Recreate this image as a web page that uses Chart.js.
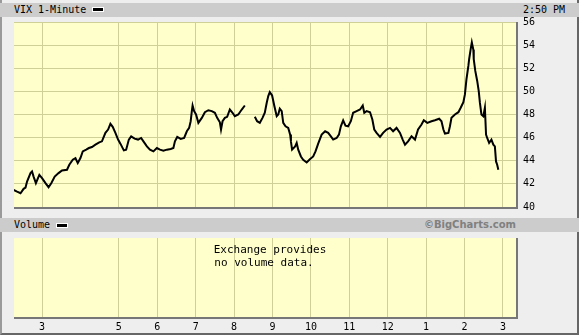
<!DOCTYPE html>
<html>
<head>
<meta charset="utf-8">
<script src="https://cdn.jsdelivr.net/npm/chart.js@4.4.1/dist/chart.umd.min.js"></script>
<style>
  html, body { margin: 0; padding: 0; }
  body { width: 579px; height: 335px; position: relative; background: #eeeeee; overflow: hidden;
         font-family: "DejaVu Sans Mono", monospace; font-size: 10px; color: #000; }
  .frame { position: absolute; left: 0; top: 0; width: 575px; height: 333px;
           border-left: 2px solid #9a9a9a; border-right: 2px solid #666; border-bottom: 2px solid #666; }
  .bar { position: absolute; left: 0; width: 579px; background: #cccccc; }
  .txt { position: absolute; line-height: 12px; white-space: pre; }
  .key { position: absolute; width: 10px; height: 3px; background: #000; border: 1px solid #fff; }
  canvas { position: absolute; left: 0; }
</style>
</head>
<body>
<div class="frame"></div>
<div class="bar" style="top:3px;height:14px"></div>
<div class="txt" style="left:14px;top:4px">VIX 1-Minute</div>
<div class="key" style="left:92px;top:7px"></div>
<div class="txt" style="left:523px;top:4px">2:50 PM</div>

<div class="bar" style="top:218px;height:14px"></div>
<div class="txt" style="left:14px;top:219px">Volume</div>
<div class="key" style="left:56px;top:223px"></div>
<div class="txt" style="right:63px;top:219px;font-family:'DejaVu Sans',sans-serif;font-weight:bold;color:#808080">©BigCharts.com</div>

<canvas id="main" width="579" height="220" style="top:0"></canvas>
<canvas id="vol" width="579" height="103" style="top:232px"></canvas>

<script>
// x positions are trading-session units, 0 = first "3" gridline
const tickPos = [0, 2, 3, 4, 5, 6, 7, 8, 9, 10, 11, 12];
const tickLabels = ['3', '5', '6', '7', '8', '9', '10', '11', '12', '1', '2', '3'];
const xMin = -0.73, xMax = 12.34;
const yMin = 40, yMax = 56, yStep = 2;

const vixX = [
  -0.74, -0.65, -0.56, -0.48, -0.43, -0.39, -0.30, -0.26, -0.22, -0.16, -0.07, 0.00,
  0.09, 0.17, 0.24, 0.33, 0.43, 0.52, 0.65, 0.71, 0.80, 0.87, 0.93, 1.00,
  1.06, 1.15, 1.22, 1.30, 1.39, 1.49, 1.56, 1.65, 1.72, 1.78, 1.84, 1.91,
  1.98, 2.04, 2.13, 2.19, 2.26, 2.32, 2.41, 2.50, 2.58, 2.64, 2.73, 2.81,
  2.90, 2.99, 3.07, 3.16, 3.25, 3.35, 3.42, 3.46, 3.52, 3.61, 3.70, 3.77,
  3.83, 3.87, 3.90, 3.92, 3.96, 4.01, 4.07, 4.16, 4.24, 4.33, 4.42, 4.50,
  4.56, 4.63, 4.66, 4.70, 4.76, 4.82, 4.89, 4.96, 5.02, 5.11, 5.20, 5.28,
  5.41,
  5.54, 5.60, 5.67, 5.74, 5.80, 5.85, 5.89, 5.93, 5.99, 6.05, 6.11, 6.15,
  6.19, 6.24, 6.28, 6.34, 6.41, 6.46, 6.48, 6.51, 6.59, 6.63, 6.67, 6.74,
  6.80, 6.89, 6.98, 7.06, 7.12, 7.19, 7.28, 7.37, 7.45, 7.52, 7.58, 7.67,
  7.73, 7.78, 7.84, 7.90, 7.97, 8.04, 8.10, 8.19, 8.28, 8.35, 8.39, 8.45,
  8.54, 8.60, 8.65, 8.71, 8.80, 8.88, 8.97, 9.06, 9.14, 9.23, 9.32, 9.39,
  9.45, 9.53, 9.62, 9.71, 9.79, 9.88, 9.94, 10.03, 10.14, 10.23, 10.34, 10.40,
  10.45, 10.49, 10.58, 10.62, 10.66, 10.75, 10.84, 10.90, 10.97, 11.01, 11.05, 11.10,
  11.12, 11.16, 11.19, 11.23, 11.24, 11.28, 11.33, 11.37, 11.40, 11.44, 11.49, 11.53,
  11.56, 11.59, 11.64, 11.70, 11.75, 11.79, 11.82, 11.85, 11.88
];
const vixY = [
  41.48, 41.33, 41.19, 41.57, 41.68, 42.20, 42.93, 43.07, 42.63, 42.06, 42.78, 42.50,
  42.06, 41.71, 42.06, 42.63, 42.93, 43.16, 43.22, 43.65, 44.09, 44.23, 43.80, 44.23,
  44.81, 44.96, 45.10, 45.19, 45.39, 45.59, 45.68, 46.41, 46.70, 47.19, 46.93, 46.41,
  45.83, 45.48, 44.90, 44.96, 45.83, 46.11, 45.91, 45.83, 45.97, 45.68, 45.24, 44.96,
  44.81, 45.10, 44.96, 44.87, 44.96, 45.02, 45.10, 45.68, 46.06, 45.89, 45.97, 46.55,
  46.84, 47.42, 48.29, 48.78, 48.29, 48.00, 47.28, 47.71, 48.20, 48.37, 48.29, 48.15,
  47.71, 47.33, 46.70, 47.42, 47.71, 47.80, 48.43, 48.15, 47.85, 48.00, 48.43, 48.78,
  null,
  47.80, 47.42, 47.28, 47.71, 48.15, 49.02, 49.59, 49.94, 49.65, 48.72, 47.85, 48.00,
  48.50, 48.29, 47.28, 46.98, 46.84, 46.26, 45.68, 44.96, 45.24, 45.54, 44.96, 44.37,
  44.09, 43.85, 44.15, 44.37, 44.81, 45.48, 46.26, 46.55, 46.41, 46.11, 45.83, 45.97,
  46.26, 46.98, 47.50, 47.04, 46.98, 47.42, 48.15, 48.29, 48.43, 48.78, 48.15, 48.29,
  48.20, 47.57, 46.70, 46.41, 46.06, 46.41, 46.70, 46.84, 46.55, 46.84, 46.41, 45.83,
  45.39, 45.68, 46.11, 45.83, 46.70, 47.13, 47.50, 47.28, 47.42, 47.50, 47.63, 47.42,
  46.70, 46.35, 46.41, 46.98, 47.71, 48.00, 48.20, 48.58, 49.07, 49.74, 51.04, 52.20,
  52.78, 53.65, 54.23, 53.59, 52.78, 51.77, 50.90, 50.03, 49.02, 48.00, 47.85, 48.58,
  46.26, 45.97, 45.54, 45.83, 45.39, 45.24, 43.94, 43.65, 43.22
];

const gridColor = '#cfcf98';
const plotFill = '#ffffcc';

// yellow plot area with a dark drop shadow on the bottom and right
const panel = {
  id: 'panel',
  beforeDraw(chart) {
    const a = chart.chartArea, ctx = chart.ctx;
    ctx.save();
    ctx.fillStyle = plotFill;
    ctx.fillRect(a.left, a.top, a.right - a.left, a.bottom - a.top);
    ctx.restore();
  },
  afterDraw(chart) {
    const a = chart.chartArea, ctx = chart.ctx;
    ctx.save();
    ctx.fillStyle = '#777777';
    ctx.fillRect(a.left, a.bottom, a.right - a.left + 2, 2);
    ctx.fillRect(a.right, a.top, 2, a.bottom - a.top + 2);
    ctx.restore();
  }
};

function setTicks(scale) {
  scale.ticks = tickPos.map(v => ({ value: v }));
}

new Chart(document.getElementById('main'), {
  type: 'line',
  data: {
    datasets: [{
      data: vixX.map((x, i) => ({ x: x, y: vixY[i] })),
      borderColor: '#000',
      borderWidth: 2,
      pointRadius: 0,
      tension: 0,
      spanGaps: false
    }]
  },
  options: {
    responsive: false,
    animation: false,
    layout: { padding: { left: 14, top: 22, right: 0, bottom: 13 } },
    plugins: { legend: { display: false }, tooltip: { enabled: false } },
    scales: {
      x: {
        type: 'linear', min: xMin, max: xMax,
        afterBuildTicks: setTicks,
        afterFit: s => { s.height = 0; },
        ticks: { display: false },
        grid: { color: gridColor, drawTicks: false },
        border: { display: false }
      },
      y: {
        position: 'right', min: yMin, max: yMax,
        afterFit: s => { s.width = 63; },
        ticks: { stepSize: yStep, padding: 7, color: '#000',
                 font: { family: 'DejaVu Sans Mono', size: 10 } },
        grid: { color: gridColor, drawTicks: false },
        border: { display: false }
      }
    }
  },
  plugins: [panel]
});

const noVolume = {
  id: 'noVolume',
  afterDraw(chart) {
    const ctx = chart.ctx;
    ctx.save();
    ctx.fillStyle = '#000';
    ctx.font = '11px "DejaVu Sans Mono"';
    ctx.textBaseline = 'middle';
    ctx.textAlign = 'center';
    ctx.fillText('Exchange provides', 270, 18);
    ctx.fillText('no volume data.', 264, 31);
    ctx.restore();
  }
};

new Chart(document.getElementById('vol'), {
  type: 'line',
  data: { datasets: [] },
  options: {
    responsive: false,
    animation: false,
    layout: { padding: { left: 14, top: 6, right: 63, bottom: 0 } },
    plugins: { legend: { display: false }, tooltip: { enabled: false } },
    scales: {
      x: {
        type: 'linear', min: xMin, max: xMax,
        afterBuildTicks: setTicks,
        afterFit: s => { s.height = 18; },
        ticks: { autoSkip: false, maxRotation: 0, padding: 4, color: '#000',
                 font: { family: 'DejaVu Sans Mono', size: 10 },
                 callback: v => tickLabels[tickPos.indexOf(v)] },
        grid: { color: gridColor, drawTicks: false },
        border: { display: false }
      },
      y: { display: false, min: 0, max: 1 }
    }
  },
  plugins: [panel, noVolume]
});
</script>
</body>
</html>
